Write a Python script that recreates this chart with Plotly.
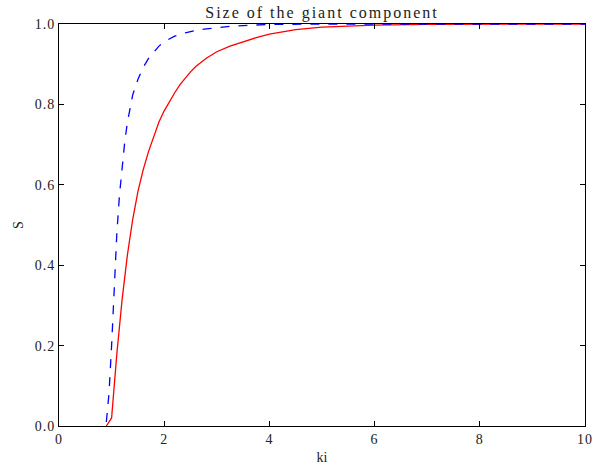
import plotly.graph_objects as go

# Red solid curve
red_k = [0.9, 1.0, 1.1, 1.2, 1.3, 1.4, 1.5, 1.6, 1.7, 1.8, 1.9, 2.0, 2.1, 2.2,
         2.3, 2.4, 2.5, 2.6, 2.7, 2.8, 2.9, 3.0, 3.25, 3.5, 3.75, 4.0, 4.5,
         5.0, 5.5, 6.0, 7.0, 8.0, 9.0, 10.0]
red_s = [0.0, 0.02, 0.18, 0.315, 0.425, 0.513, 0.583, 0.637, 0.682, 0.722,
         0.756, 0.784, 0.808, 0.829, 0.849, 0.866, 0.881, 0.894, 0.905, 0.915,
         0.923, 0.931, 0.945, 0.956, 0.966, 0.975, 0.986, 0.992, 0.995, 0.997,
         0.999, 1.0, 1.0, 1.0]

# Blue dashed curve
blue_k = [0.9, 0.95, 1.0, 1.05, 1.1, 1.15, 1.2, 1.25, 1.3, 1.35, 1.4, 1.5, 1.6,
          1.7, 1.8, 1.9, 2.0, 2.2, 2.4, 2.6, 2.8, 3.0, 3.25, 3.5, 4.0, 5.0,
          6.0, 7.0, 8.0, 9.0, 10.0]
blue_s = [0.01, 0.08, 0.2, 0.35, 0.48, 0.575, 0.65, 0.707, 0.755, 0.792, 0.823,
          0.862, 0.892, 0.914, 0.931, 0.945, 0.956, 0.97, 0.978, 0.984, 0.988,
          0.991, 0.994, 0.996, 0.999, 1.0, 1.0, 1.0, 1.0, 1.0, 1.0]

x_ticks = [0, 2, 4, 6, 8, 10]
y_ticks = [0.0, 0.2, 0.4, 0.6, 0.8, 1.0]

font_family = "Liberation Serif, Times New Roman, serif"
ink = "#222"


def spaced(text, px):
    return f'<span style="letter-spacing:{px}px">{text}</span>'


fig = go.Figure()
fig.add_trace(go.Scatter(x=red_k, y=red_s, mode="lines",
                         line=dict(color="#ff0000", width=1.3),
                         showlegend=False))
fig.add_trace(go.Scatter(x=blue_k, y=blue_s, mode="lines",
                         line=dict(color="#0000ff", width=1.3, dash="dash"),
                         showlegend=False))

axis_common = dict(showgrid=False, zeroline=False, showline=True,
                   linecolor="black", linewidth=1, mirror="allticks",
                   ticks="inside", ticklen=5, tickcolor="black",
                   tickfont=dict(family=font_family, size=14, color=ink))

fig.update_xaxes(range=[0, 10], tickvals=x_ticks,
                 ticktext=[spaced(str(v), 1) for v in x_ticks],
                 title=dict(text="ki", font=dict(family=font_family, size=14, color=ink),
                            standoff=6),
                 **axis_common)
fig.update_yaxes(range=[0, 1], tickvals=y_ticks,
                 ticktext=[spaced(f"{v:.1f}", 1) for v in y_ticks],
                 title=dict(text="S", font=dict(family=font_family, size=14, color=ink),
                            standoff=7),
                 **axis_common)

fig.update_layout(
    width=607, height=475,
    margin=dict(l=59, r=22, t=24, b=41),
    paper_bgcolor="white", plot_bgcolor="white",
    title=dict(text=spaced("Size of the giant component", 2),
               font=dict(family=font_family, size=16, color=ink),
               xref="paper", x=0.5, xanchor="center",
               y=1 - 12 / 475, yanchor="middle"),
)

fig.write_html("out.html")
